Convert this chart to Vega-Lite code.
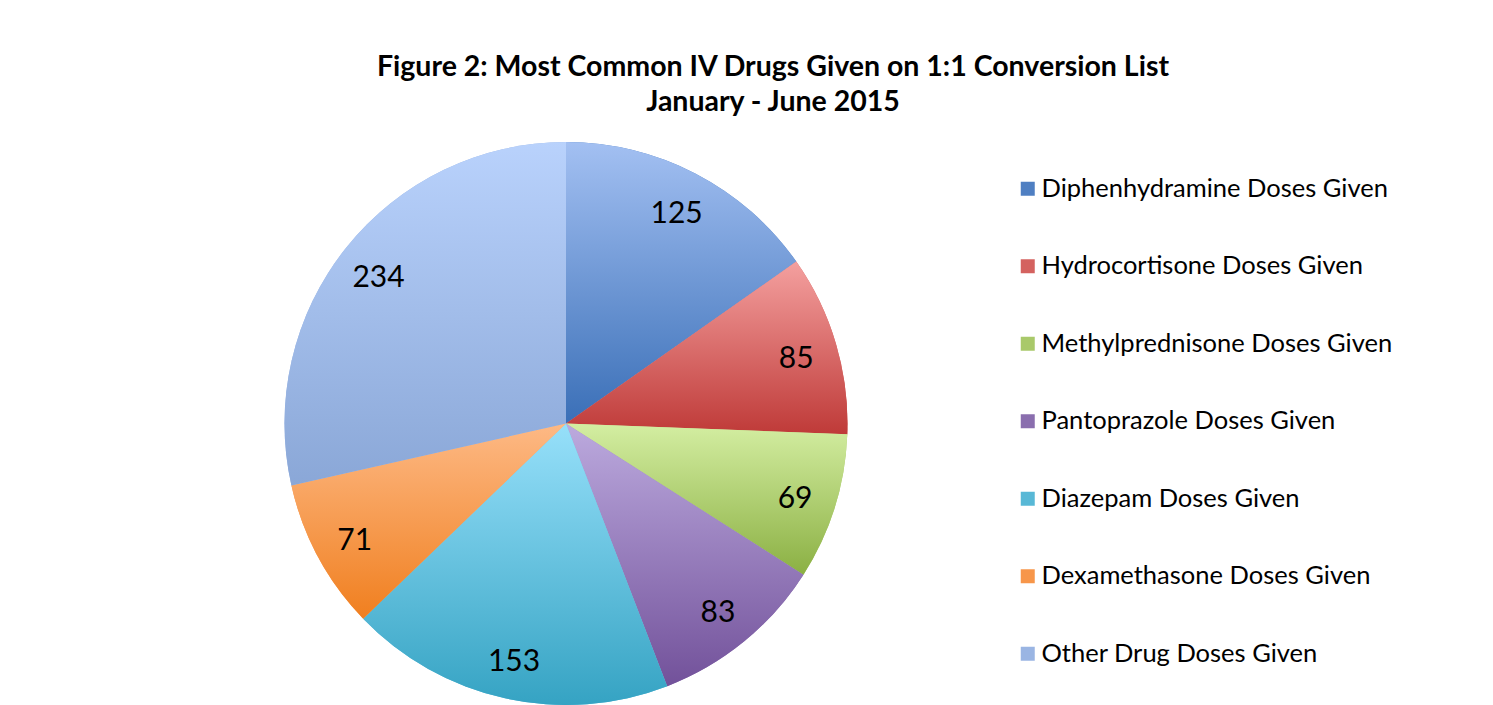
{
  "$schema": "https://vega.github.io/schema/vega-lite/v6.json",
  "autosize": {"type": "none"},
  "padding": {"left": 284, "top": 142, "right": 645, "bottom": 0},
  "width": 564,
  "height": 563,
  "background": "white",
  "config": {"view": {"stroke": null}, "font": "Lato"},
  "title": {
    "text": ["Figure 2: Most Common IV Drugs Given on 1:1 Conversion List", "January - June 2015"],
    "anchor": "middle",
    "dx": 207,
    "offset": 26,
    "font": "Lato",
    "fontSize": 28.5,
    "fontWeight": "bold",
    "lineHeight": 35,
    "color": "black"
  },
  "data": {
    "values": [
      {"drug": "Diphenhydramine Doses Given", "doses": 125, "rank": 1},
      {"drug": "Hydrocortisone Doses Given", "doses": 85, "rank": 2},
      {"drug": "Methylprednisone Doses Given", "doses": 69, "rank": 3},
      {"drug": "Pantoprazole Doses Given", "doses": 83, "rank": 4},
      {"drug": "Diazepam Doses Given", "doses": 153, "rank": 5},
      {"drug": "Dexamethasone Doses Given", "doses": 71, "rank": 6},
      {"drug": "Other Drug Doses Given", "doses": 234, "rank": 7}
    ]
  },
  "transform": [
    {"stack": "doses", "groupby": [], "sort": [{"field": "rank", "order": "ascending"}], "as": ["t0", "t1"]}
  ],
  "layer": [
    {
      "mark": {"type": "arc"},
      "encoding": {
        "theta": {"field": "t0", "type": "quantitative", "scale": {"domain": [0, 820]}},
        "theta2": {"field": "t1"},
        "color": {
          "field": "drug",
          "type": "nominal",
          "sort": null,
          "scale": {
            "domain": ["Diphenhydramine Doses Given", "Hydrocortisone Doses Given", "Methylprednisone Doses Given", "Pantoprazole Doses Given", "Diazepam Doses Given", "Dexamethasone Doses Given", "Other Drug Doses Given"],
            "range": ["#4f7fc2", "#d4625f", "#a9c96a", "#8a6eae", "#58b8d6", "#f7964a", "#9ab5e3"]
          },
          "legend": {
            "title": null,
            "orient": "none",
            "legendX": 731,
            "legendY": 34,
            "symbolType": "square",
            "symbolSize": 196,
            "symbolStrokeWidth": 0,
            "symbolOpacity": 1,
            "labelFont": "Lato",
            "labelFontSize": 25.5,
            "labelColor": "black",
            "labelOffset": 1,
            "rowPadding": 50.5,
            "labelLimit": 500
          }
        }
      }
    },
    {
      "transform": [{"filter": "datum.rank == 1"}],
      "mark": {"type": "arc", "fill": {"gradient": "linear", "x1": 0, "y1": 0, "x2": 0, "y2": 1, "stops": [{"offset": 0, "color": "#a3c0f2"}, {"offset": 1, "color": "#3a6fb7"}]}},
      "encoding": {"theta": {"field": "t0", "type": "quantitative"}, "theta2": {"field": "t1"}}
    },
    {
      "transform": [{"filter": "datum.rank == 2"}],
      "mark": {"type": "arc", "fill": {"gradient": "linear", "x1": 0, "y1": 0, "x2": 0, "y2": 1, "stops": [{"offset": 0, "color": "#f4a09f"}, {"offset": 1, "color": "#bf3a38"}]}},
      "encoding": {"theta": {"field": "t0", "type": "quantitative"}, "theta2": {"field": "t1"}}
    },
    {
      "transform": [{"filter": "datum.rank == 3"}],
      "mark": {"type": "arc", "fill": {"gradient": "linear", "x1": 0, "y1": 0, "x2": 0, "y2": 1, "stops": [{"offset": 0, "color": "#d4eea2"}, {"offset": 1, "color": "#8bb043"}]}},
      "encoding": {"theta": {"field": "t0", "type": "quantitative"}, "theta2": {"field": "t1"}}
    },
    {
      "transform": [{"filter": "datum.rank == 4"}],
      "mark": {"type": "arc", "fill": {"gradient": "linear", "x1": 0, "y1": 0, "x2": 0, "y2": 1, "stops": [{"offset": 0, "color": "#bcaade"}, {"offset": 1, "color": "#72519a"}]}},
      "encoding": {"theta": {"field": "t0", "type": "quantitative"}, "theta2": {"field": "t1"}}
    },
    {
      "transform": [{"filter": "datum.rank == 5"}],
      "mark": {"type": "arc", "fill": {"gradient": "linear", "x1": 0, "y1": 0, "x2": 0, "y2": 1, "stops": [{"offset": 0, "color": "#97e0fa"}, {"offset": 1, "color": "#35a3c3"}]}},
      "encoding": {"theta": {"field": "t0", "type": "quantitative"}, "theta2": {"field": "t1"}}
    },
    {
      "transform": [{"filter": "datum.rank == 6"}],
      "mark": {"type": "arc", "fill": {"gradient": "linear", "x1": 0, "y1": 0, "x2": 0, "y2": 1, "stops": [{"offset": 0, "color": "#fdb985"}, {"offset": 1, "color": "#f07f1f"}]}},
      "encoding": {"theta": {"field": "t0", "type": "quantitative"}, "theta2": {"field": "t1"}}
    },
    {
      "transform": [{"filter": "datum.rank == 7"}],
      "mark": {"type": "arc", "fill": {"gradient": "linear", "x1": 0, "y1": 0, "x2": 0, "y2": 1, "stops": [{"offset": 0, "color": "#b9d2fc"}, {"offset": 1, "color": "#8aa7d7"}]}},
      "encoding": {"theta": {"field": "t0", "type": "quantitative"}, "theta2": {"field": "t1"}}
    },
    {
      "mark": {"type": "text", "radius": 240, "dy": 4, "fontSize": 30, "font": "Lato", "color": "black"},
      "encoding": {
        "theta": {"field": "doses", "type": "quantitative", "stack": true},
        "order": {"field": "rank", "type": "quantitative"},
        "text": {"field": "doses", "type": "quantitative"}
      }
    }
  ]
}
